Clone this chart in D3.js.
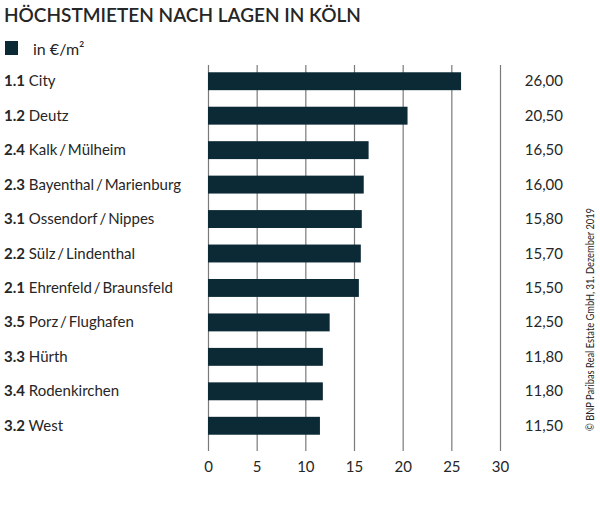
<!DOCTYPE html>
<html>
<head>
<meta charset="utf-8">
<script src="https://cdn.jsdelivr.net/npm/d3@7"></script>
<style>
  body { margin: 0; background: #fff; }
  svg text { font-family: Lato, "Noto Sans", sans-serif; fill: #262626; }
</style>
</head>
<body>
<div id="chart"></div>
<script>
const codes = ["1.1", "1.2", "2.4", "2.3", "3.1", "2.2", "2.1", "3.5", "3.3", "3.4", "3.2"];
const names = ["City", "Deutz", "Kalk\u2009/\u2009Mülheim", "Bayenthal\u2009/\u2009Marienburg", "Ossendorf\u2009/\u2009Nippes",
    "Sülz\u2009/\u2009Lindenthal", "Ehrenfeld\u2009/\u2009Braunsfeld", "Porz\u2009/\u2009Flughafen", "Hürth", "Rodenkirchen", "West"];
const rents = [26.0, 20.5, 16.5, 16.0, 15.8, 15.7, 15.5, 12.5, 11.8, 11.8, 11.5];
const xTicks = [0, 5, 10, 15, 20, 25, 30];

const svgWidth = 600;
const svgHeight = 514;
const barColor = "#0c2a35";

const svg = d3.select("#chart")
    .append("svg")
    .attr("width", svgWidth)
    .attr("height", svgHeight);

const x = d3.scaleLinear()
    .domain([0, 30])
    .range([208, 500]);

const y = d3.scaleBand()
    .domain(codes)
    .range([64, 443])
    .paddingInner(0.48)
    .paddingOuter(0.24);

// title + legend
svg.append("text")
    .attr("x", 4)
    .attr("y", 22)
    .style("font-size", "19px")
    .style("font-weight", 600)
    .text("HÖCHSTMIETEN NACH LAGEN IN KÖLN");

svg.append("rect")
    .attr("x", 5)
    .attr("y", 41)
    .attr("width", 13)
    .attr("height", 14)
    .attr("fill", barColor);

svg.append("text")
    .attr("x", 33)
    .attr("y", 55)
    .style("font-size", "16px")
    .text("in €/m²");

// grid lines as ticks
const xAxis = d3.axisBottom(x)
    .tickValues(xTicks)
    .tickSize(-(451 - 65))
    .tickPadding(10)
    .tickFormat(d3.format("d"));

const axisG = svg.append("g")
    .attr("transform", "translate(0, 451)")
    .call(xAxis);

axisG.select(".domain").remove();
axisG.selectAll(".tick line")
    .attr("stroke", "#7a7a7a")
    .attr("stroke-width", 1.2);
axisG.selectAll(".tick text")
    .style("font-size", "15px")
    .style("font-family", "Lato, sans-serif")
    .attr("fill", "#262626");

// bars
svg.append("g")
    .selectAll("rect")
    .data(rents)
    .join("rect")
    .attr("x", x(0))
    .attr("y", (d, i) => y(codes[i]))
    .attr("width", d => x(d) - x(0))
    .attr("height", y.bandwidth())
    .attr("fill", barColor);

// row labels
const labels = svg.append("g")
    .selectAll("text")
    .data(codes)
    .join("text")
    .attr("x", 4)
    .attr("y", d => y(d) + y.bandwidth() / 2 + 5)
    .style("font-size", "15px");

labels.append("tspan")
    .style("font-weight", 700)
    .text(d => d);
labels.append("tspan")
    .text((d, i) => " " + names[i]);

// value column
svg.append("g")
    .selectAll("text")
    .data(rents)
    .join("text")
    .attr("x", 563)
    .attr("y", (d, i) => y(codes[i]) + y.bandwidth() / 2 + 5)
    .attr("text-anchor", "end")
    .style("font-size", "15px")
    .text(d => d.toFixed(2).replace(".", ","));

// source
svg.append("text")
    .attr("transform", "translate(594, 431) rotate(-90)")
    .attr("textLength", 223)
    .attr("lengthAdjust", "spacingAndGlyphs")
    .style("font-size", "11px")
    .attr("fill", "#444")
    .text("© BNP Paribas Real Estate GmbH, 31. Dezember 2019");
</script>
</body>
</html>
